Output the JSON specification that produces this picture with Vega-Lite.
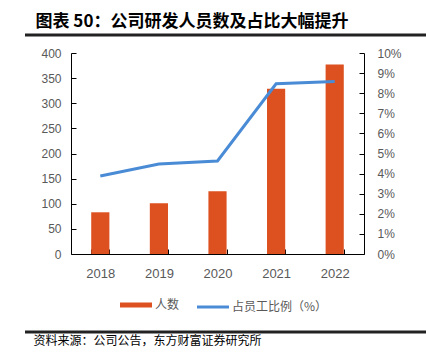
{
  "$schema": "https://vega.github.io/schema/vega-lite/v6.json",
  "padding": {"left": 23, "top": 12, "right": 0, "bottom": 0},
  "background": "white",
  "spacing": 10,
  "config": {
    "view": {"stroke": null},
    "font": "Liberation Sans",
    "axis": {"grid": false, "domainColor": "#000000", "tickColor": "#000000", "labelColor": "#595959", "labelFont": "Liberation Sans"}
  },
  "resolve": {"scale": {"color": "independent", "x": "independent", "y": "independent"}, "legend": {"color": "independent"}},
  "vconcat": [
    {
      "width": 403,
      "height": 1,
      "title": {"text": "图表 50：公司研发人员数及占比大幅提升", "anchor": "start", "dx": 12, "offset": 3, "font": "Noto Sans CJK SC", "fontSize": 17, "fontWeight": "bold", "color": "#000000"},
      "data": {"values": [{}]},
      "mark": {"type": "rule", "color": "#222222", "strokeWidth": 3},
      "encoding": {
        "y": {"datum": 1, "type": "quantitative", "scale": {"domain": [0, 1], "nice": false}, "axis": null}
      }
    },
    {
      "spacing": 0,
      "resolve": {"scale": {"color": "independent"}, "legend": {"color": "independent"}},
      "hconcat": [
        {"width": 6, "height": 1, "data": {"values": [{}]}, "mark": {"type": "text", "text": ""}},
        {
          "width": 293,
          "height": 201,
          "data": {"values": [
            {"year": "2018", "count": 83, "pct": 0.0388},
            {"year": "2019", "count": 101, "pct": 0.0448},
            {"year": "2020", "count": 125, "pct": 0.0463},
            {"year": "2021", "count": 329, "pct": 0.0847},
            {"year": "2022", "count": 377, "pct": 0.0858}
          ]},
          "encoding": {
            "x": {"field": "year", "type": "nominal", "sort": null,
              "scale": {"paddingInner": 0.69, "paddingOuter": 0.345},
              "axis": {"title": null, "labelAngle": 0, "labelFontSize": 13, "tickBand": "extent", "tickSize": -5, "labelPadding": 18}}
          },
          "layer": [
            {
              "mark": {"type": "bar"},
              "encoding": {
                "y": {"field": "count", "type": "quantitative", "scale": {"domain": [0, 400], "nice": false},
                  "axis": {"title": null, "values": [0, 50, 100, 150, 200, 250, 300, 350, 400], "tickSize": -5, "labelPadding": 15, "minExtent": 40, "labelFontSize": 12}},
                "color": {"datum": "人数", "type": "nominal",
                  "scale": {"domain": ["人数", "占员工比例（%）"], "range": ["#DD5020", "#4A8BD6"]},
                  "legend": {"title": null, "orient": "none", "legendX": 54, "legendY": 241, "padding": 5, "direction": "horizontal",
                    "symbolType": "stroke", "symbolSize": 1024, "labelOffset": 13, "columnPadding": 11,
                    "labelFont": "Noto Sans CJK SC", "labelFontSize": 12, "labelColor": "#595959",
                    "encode": {"symbols": {"update": {
                      "stroke": {"signal": "datum.value === '人数' ? '#DD5020' : '#4A8BD6'"},
                      "strokeWidth": {"signal": "datum.value === '人数' ? 5 : 3"},
                      "fill": {"value": "transparent"}
                    }}}}
                }
              }
            },
            {
              "mark": {"type": "line", "strokeWidth": 3},
              "encoding": {
                "y": {"field": "pct", "type": "quantitative", "scale": {"domain": [0, 0.1], "nice": false},
                  "axis": {"title": null, "orient": "right", "format": ".0%", "values": [0, 0.01, 0.02, 0.03, 0.04, 0.05, 0.06, 0.07, 0.08, 0.09, 0.1], "tickSize": -5, "labelPadding": 18, "labelFontSize": 12}},
                "color": {"datum": "占员工比例（%）", "type": "nominal"}
              }
            }
          ],
          "resolve": {"scale": {"y": "independent"}}
        }
      ]
    },
    {
      "width": 403,
      "height": 1,
      "title": {"text": "资料来源：公司公告，东方财富证券研究所", "orient": "bottom", "anchor": "start", "dx": 10, "offset": 2, "font": "Noto Sans CJK SC", "fontSize": 12, "fontWeight": "normal", "color": "#000000"},
      "data": {"values": [{}]},
      "mark": {"type": "rule", "color": "#222222", "strokeWidth": 3},
      "encoding": {
        "y": {"datum": 1, "type": "quantitative", "scale": {"domain": [0, 1], "nice": false}, "axis": null}
      }
    }
  ]
}
